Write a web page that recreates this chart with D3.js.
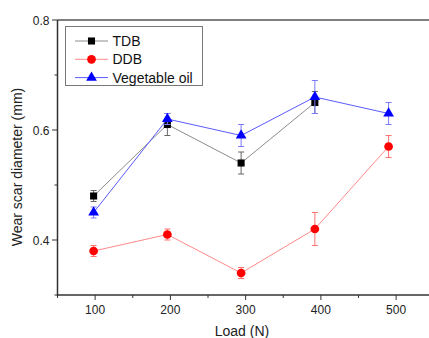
<!DOCTYPE html>
<html><head><meta charset="utf-8">
<script src="https://cdn.jsdelivr.net/npm/d3@7"></script>
<style>body{margin:0;background:#fff}svg{display:block}text{font-family:"Liberation Sans",Arial,sans-serif}</style>
</head><body>
<script>
const loads = [98, 196, 294, 392, 490];
const tdb = [0.48, 0.61, 0.54, 0.65];
const tdbErr = [0.01, 0.02, 0.02, 0.02];
const ddb = [0.38, 0.41, 0.34, 0.42, 0.57];
const ddbErr = [0.01, 0.01, 0.01, 0.03, 0.02];
const veg = [0.45, 0.62, 0.59, 0.66, 0.63];
const vegErr = [0.01, 0.01, 0.02, 0.03, 0.02];
const xTicks = [100, 200, 300, 400, 500];
const yTicks = [0.4, 0.6, 0.8];
const seriesNames = ["TDB", "DDB", "Vegetable oil"];

const W = 429, H = 338;
const svg = d3.select("body").append("svg").attr("width", W).attr("height", H);
const x = d3.scaleLinear().domain([50, 550]).range([57.5, 433.75]);
const y = d3.scaleLinear().domain([0.3, 0.8]).range([295, 20]);

const axisColor = "#333";
// bottom axis
const gx = svg.append("g").attr("transform", "translate(0,295)");
gx.append("line").attr("x1", 57.5).attr("x2", W).attr("stroke", axisColor).attr("stroke-width", 1.5);
d3.range(50, 551, 50).forEach(v => {
  const major = v % 100 === 0;
  gx.append("line").attr("x1", x(v)).attr("x2", x(v)).attr("y1", 0).attr("y2", major ? 5 : 3)
    .attr("stroke", axisColor).attr("stroke-width", 1);
});
xTicks.forEach(v => gx.append("text").attr("x", x(v)).attr("y", 19).attr("text-anchor", "middle")
  .attr("font-size", 12).attr("fill", "#222").text(v));
// top axis
svg.append("line").attr("x1", 57.5).attr("x2", W).attr("y1", 20).attr("y2", 20).attr("stroke", "#555").attr("stroke-width", 1.5);
// left axis
const gy = svg.append("g");
gy.append("line").attr("x1", 57.5).attr("x2", 57.5).attr("y1", 20).attr("y2", 296).attr("stroke", axisColor).attr("stroke-width", 1.5);
d3.range(0.3, 0.801, 0.1).forEach(v => {
  const major = Math.round(v * 10) % 2 === 0;
  gy.append("line").attr("x1", 57.5).attr("x2", major ? 52 : 54.5).attr("y1", y(v)).attr("y2", y(v))
    .attr("stroke", axisColor).attr("stroke-width", 1);
});
yTicks.forEach(v => gy.append("text").attr("x", 49.5).attr("y", y(v) + 4.5).attr("text-anchor", "end")
  .attr("font-size", 12).attr("fill", "#222").text(v.toFixed(1)));

svg.append("text").attr("x", 242).attr("y", 336).attr("text-anchor", "middle").attr("font-size", 14).attr("fill", "#222").text("Load (N)");
svg.append("text").attr("transform", "translate(22,167) rotate(-90)").attr("text-anchor", "middle")
  .attr("font-size", 14).attr("fill", "#222").text("Wear scar diameter (mm)");

const series = [
  {name: seriesNames[0], vals: tdb, err: tdbErr, line: "#8c8c8c", mark: "#000", errc: "#666", sym: d3.symbolSquare, size: 50},
  {name: seriesNames[1], vals: ddb, err: ddbErr, line: "#ff8a8a", mark: "#ff0000", errc: "#ff7070", sym: d3.symbolCircle, size: 60},
  {name: seriesNames[2], vals: veg, err: vegErr, line: "#5a5aff", mark: "#0000ff", errc: "#7a7aff", sym: d3.symbolTriangle, size: 50}
];

const line = d3.line().x(d => x(d[0])).y(d => y(d[1]));
series.forEach(s => {
  const pts = s.vals.map((v, i) => [loads[i], v, s.err[i]]);
  const g = svg.append("g");
  g.append("path").attr("d", line(pts)).attr("fill", "none").attr("stroke", s.line).attr("stroke-width", 1);
  pts.forEach(p => {
    g.append("line").attr("x1", x(p[0])).attr("x2", x(p[0])).attr("y1", y(p[1] - p[2])).attr("y2", y(p[1] + p[2])).attr("stroke", s.errc).attr("stroke-width", 1);
    [p[1] - p[2], p[1] + p[2]].forEach(e => g.append("line").attr("x1", x(p[0]) - 3).attr("x2", x(p[0]) + 3)
      .attr("y1", y(e)).attr("y2", y(e)).attr("stroke", s.errc).attr("stroke-width", 1));
  });
  g.selectAll("path.m").data(pts).join("path").attr("class", "m")
    .attr("transform", d => `translate(${x(d[0])},${y(d[1])})`)
    .attr("d", d3.symbol(s.sym, s.size)).attr("fill", s.mark);
});

// legend
const lg = svg.append("g");
lg.append("rect").attr("x", 65.5).attr("y", 26.5).attr("width", 137).attr("height", 59).attr("fill", "#fff").attr("stroke", "#777").attr("stroke-width", 1);
series.forEach((s, i) => {
  const yy = 41 + i * 18.3;
  lg.append("line").attr("x1", 75).attr("x2", 108).attr("y1", yy).attr("y2", yy).attr("stroke", s.line).attr("stroke-width", 1);
  lg.append("path").attr("transform", `translate(91.5,${yy})`).attr("d", d3.symbol(s.sym, s.size)).attr("fill", s.mark);
  lg.append("text").attr("x", 112.5).attr("y", yy + 5).attr("font-size", 14).attr("fill", "#111").text(s.name);
});
</script>
</body></html>
